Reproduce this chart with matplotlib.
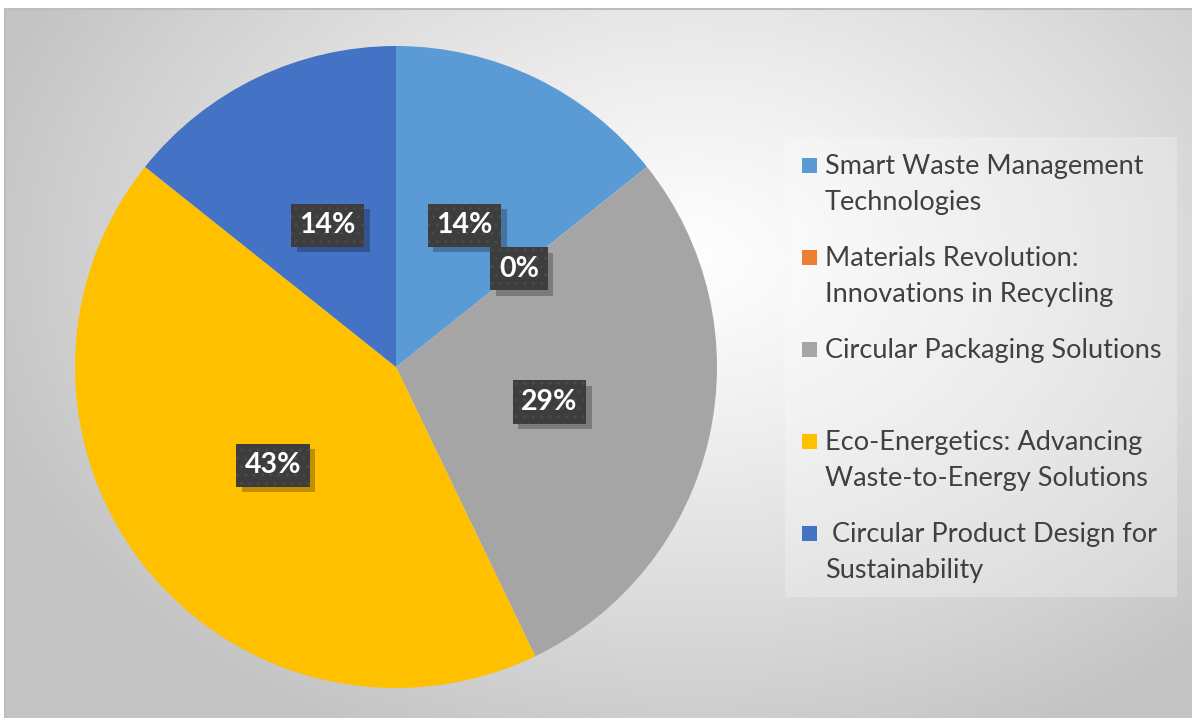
import matplotlib

matplotlib.use("Agg")

import matplotlib.patheffects as pe
import matplotlib.pyplot as plt
import numpy as np
from matplotlib.patches import Rectangle

# dados
categorias = [
    "Smart Waste Management\nTechnologies",
    "Materials Revolution:\nInnovations in Recycling",
    "Circular Packaging Solutions",
    "Eco-Energetics: Advancing\nWaste-to-Energy Solutions",
    " Circular Product Design for\nSustainability",
]
valores = [1, 0, 2, 3, 1]
cores = ["#5B9BD5", "#ED7D31", "#A5A5A5", "#FFC000", "#4472C4"]

W, H = 1192, 718
fig = plt.figure(figsize=(W / 100, H / 100), dpi=100)
fig.patch.set_facecolor("white")


def px(x, y):
    # converte pixel da imagem (origem no topo) para fração da figura
    return x / W, 1 - y / H


class Sombra(pe.AbstractPathEffect):
    # sombra lisa, sem repetir a textura pontilhada da caixa
    def __init__(self, offset=(4, -4), alpha=0.25):
        super().__init__(offset)
        self.alpha = alpha

    def draw_path(self, renderer, gc, tpath, affine, rgbFace):
        gc0 = renderer.new_gc()
        gc0.copy_properties(gc)
        gc0.set_hatch(None)
        gc0.set_linewidth(0)
        gc0.set_alpha(self.alpha)
        renderer.draw_path(gc0, tpath, affine + self._offset_transform(renderer), (0, 0, 0))
        gc0.restore()


# fundo com gradiente radial
bg = fig.add_axes([5 / W, 0, 1 - 5 / W, 1 - 9 / H], zorder=-10)
gx, gy = np.meshgrid(np.linspace(0, 1, 400), np.linspace(0, 1, 240))
d = np.sqrt(((gx - 0.58) / 0.62) ** 2 + ((gy - 0.35) / 0.75) ** 2)
d = np.clip(d, 0, 1)
tom = 0.995 - 0.225 * d ** 1.2
bg.imshow(np.dstack([tom, tom, tom]), aspect="auto", extent=(0, 1, 1, 0), interpolation="bilinear")
bg.set_xlim(0, 1)
bg.set_ylim(1, 0)
bg.set_xticks([])
bg.set_yticks([])
for lado, s in bg.spines.items():
    s.set_color("#bdbdbd")
    s.set_linewidth(1.5)
    s.set_visible(lado in ("top", "left"))

# pizza
cx, cy, r = 396, 367, 321
ax = fig.add_axes([(cx - r) / W, (H - cy - r) / H, 2 * r / W, 2 * r / H])
wedges, _, pcts = ax.pie(
    valores,
    colors=cores,
    startangle=90,
    counterclock=False,
    autopct="%.0f%%",
    pctdistance=0.49,
    wedgeprops=dict(linewidth=0),
)
ax.set_xlim(-1, 1)
ax.set_ylim(-1, 1)
ax.set_aspect("auto")

for t in pcts:
    t.set_color("white")
    t.set_fontsize(20.5)
    t.set_fontweight("bold")
    t.set_fontfamily("Lato")
    t.set_bbox(dict(boxstyle="square,pad=0.3", facecolor="#3d3d3d", edgecolor="#4a4a4a",
                    hatch="..", linewidth=0))
    t.get_bbox_patch().set_path_effects([Sombra(offset=(4, -4), alpha=0.25), pe.Normal()])

# legenda montada a mão (espaçamento irregular como no original)
fig.patches.append(Rectangle(px(785, 597), 392 / W, 460 / H, transform=fig.transFigure,
                             facecolor="white", alpha=0.25, edgecolor="none"))
base = 174
for i, (nome, cor) in enumerate(zip(categorias, cores)):
    y0 = base + i * 92
    fig.patches.append(Rectangle(px(802, y0 - 1), 15 / W, 15 / H, transform=fig.transFigure,
                                 facecolor=cor, edgecolor="none"))
    for j, linha in enumerate(nome.split("\n")):
        xf, yf = px(825, y0 + j * 36)
        fig.text(xf, yf, linha, fontsize=19.5, color="#404040", family="Lato",
                 ha="left", va="baseline")

fig.savefig("out.png", dpi=100)
